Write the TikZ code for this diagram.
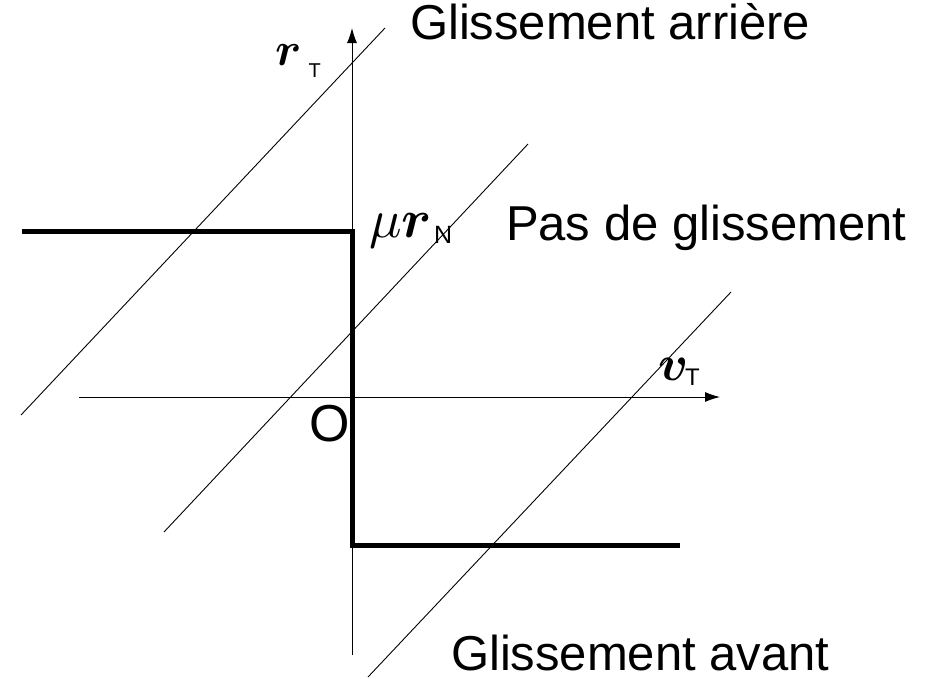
\documentclass[tikz,border=0pt]{standalone}
\usepackage{amsmath}
\usepackage{bm}
\usepackage{fontspec}
\setmainfont{Liberation Sans}
\usetikzlibrary{arrows.meta}
\tikzset{
  thinline/.style={line width=0.9pt, black},
  axisline/.style={line width=1pt, black, -{Latex[length=15pt,width=10pt]}},
  thickline/.style={line width=5pt, black, line join=miter, line cap=butt},
  lbl/.style={anchor=base west, inner sep=0pt, outer sep=0pt, font=\fontsize{49}{51}\selectfont},
  mathlbl/.style={anchor=base west, inner sep=0pt, outer sep=0pt, font=\fontsize{10}{12}\selectfont},
}
\begin{document}
\begin{tikzpicture}[x=1pt,y=-1pt]
\useasboundingbox (0,0) rectangle (933,678);
% coordinates
\coordinate (vb) at (352,655);
\coordinate (vt) at (352,28);
\coordinate (hl) at (79,397);
\coordinate (hr) at (720,397);
\coordinate (a1) at (21,415);
\coordinate (b1) at (385,28);
\coordinate (a2) at (164,532);
\coordinate (b2) at (528,144);
\coordinate (a3) at (368,677);
\coordinate (b3) at (731,292);
\coordinate (t1) at (22,231);
\coordinate (t2) at (352,231);
\coordinate (t3) at (352,545);
\coordinate (t4) at (680,545);
% diagonal lines
\draw[thinline] (a1) -- (b1);
\draw[thinline] (a2) -- (b2);
\draw[thinline] (a3) -- (b3);
% axes
\draw[axisline] (vb) -- (vt);
\draw[axisline] (hl) -- (hr);
% thick characteristic
\draw[thickline] (t1) -- (t2) -- (t3) -- (t4);
% labels
\node[lbl] (ga) at (410,39) {Glissement arrière};
\node[lbl] (pg) at (506,240) {Pas de glissement};
\node[lbl] (gv) at (451,670) {Glissement avant};
\node[mathlbl, scale=5.2] (O) at (309,441) {O};
\node[mathlbl, scale=4.7] (rT) at (275,65) {$\bm{r}$};
\node[mathlbl, scale=2.0] (rTs) at (308.5,77) {T};
\node[mathlbl, scale=5.4] (muN) at (369,237) {$\mu\bm{r}$};
\node[mathlbl, scale=2.5] (muNs) at (434,243) {N};
\node[mathlbl, scale=5.0] (vT) at (658,380) {$\bm{v}$};
\node[mathlbl, scale=2.4] (vTs) at (685,385) {T};
\end{tikzpicture}
\end{document}
